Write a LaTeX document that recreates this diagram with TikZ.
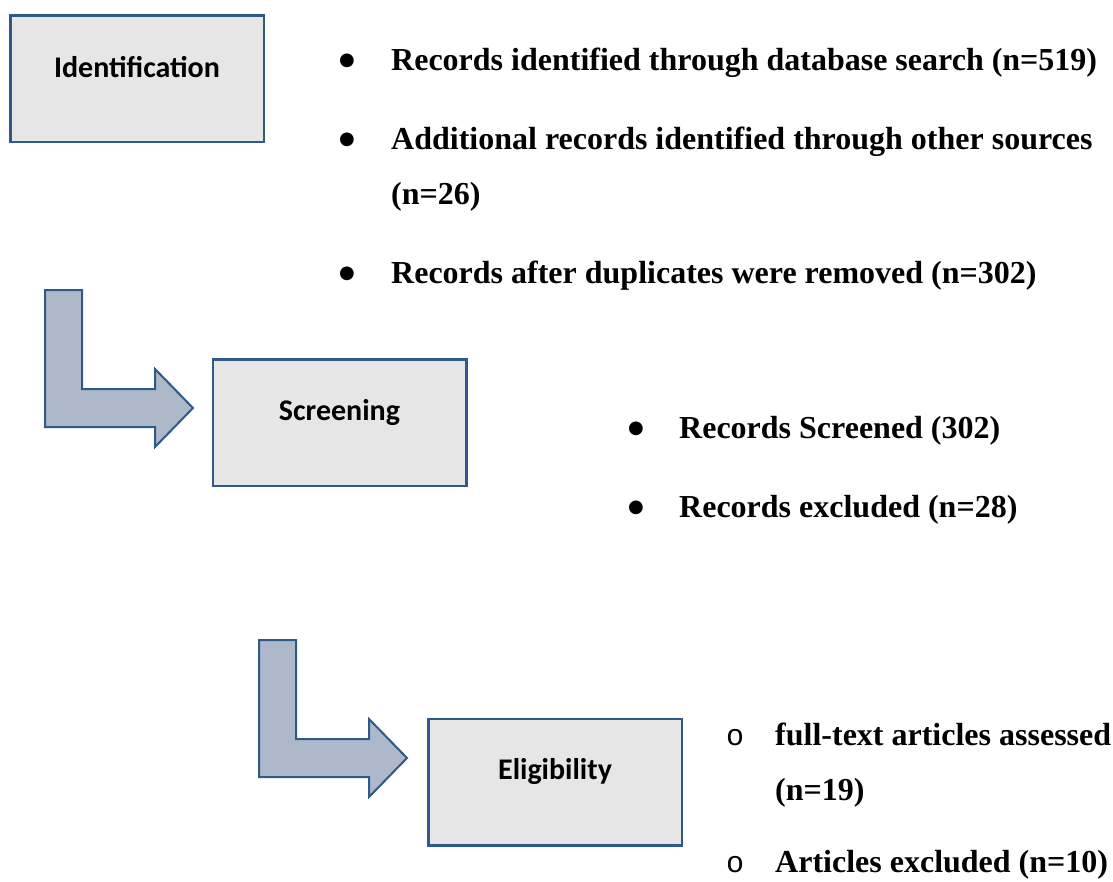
\documentclass[tikz,border=0pt]{standalone}
\usepackage{fontspec}
\setmainfont{Liberation Serif}
\newfontfamily\boxfont{Carlito}
\newfontfamily\markfont{Liberation Mono}
\newfontfamily\dotfont{DejaVu Sans}
\usepackage{xcolor}
\definecolor{boxblue}{HTML}{2F5A88}
\definecolor{boxgray}{HTML}{E6E6E6}
\definecolor{arrowfill}{HTML}{ADB9CA}
\tikzset{
  stage/.style    = {draw=boxblue, line width=2.5pt, fill=boxgray,
                     minimum width=253.5pt, minimum height=126.5pt,
                     inner sep=0pt},
  stagetext/.style= {font=\boxfont\bfseries\fontsize{30}{36}\selectfont},
  bendarrow/.style= {draw=boxblue, line width=2pt, fill=arrowfill,
                     line join=miter},
  entry/.style    = {anchor=base west, inner sep=0pt, align=left,
                     font=\bfseries\fontsize{32}{55}\selectfont},
  dot/.style      = {anchor=center, inner sep=0pt,
                     font=\dotfont\fontsize{18}{20}\selectfont},
  ring/.style     = {anchor=base, inner sep=0pt,
                     font=\markfont\fontsize{30}{34}\selectfont},
}
% bent block arrow, #1 = left edge, #2 = top edge
\newcommand{\bentarrow}[2]{%
  \draw[bendarrow, shift={(#1,#2)}] (0,0) -- (37,0) -- (37,99) -- (110,99)
    -- (110,79) -- (148,118) -- (110,157) -- (110,137) -- (0,137) -- cycle;}

\begin{document}
\begin{tikzpicture}[x=1pt, y=-1pt]
\useasboundingbox (0,0) rectangle (1113,881);
% ---------------- stages ----------------
\node[stage, label={[stagetext, yshift=11pt]center:Identification}] (ident) at (137,78.5) {};
\node[stage, label={[stagetext, yshift=10pt]center:Screening}] (screen) at (339.5,422.5) {};
\node[stage, label={[stagetext, yshift=10pt]center:Eligibility}] (elig) at (555,782) {};
\bentarrow{45}{290}
\bentarrow{259}{640}
% ---------------- identification ----------------
\node[dot] (d1) at (347,61) {●};
\node[entry] (idA) at (391,70) {Records identified through database search (n=519)};
\node[dot] (d2) at (347,140) {●};
% base of a two-line entry sits on its last line
\node[entry] (idB) at (391,204) {Additional records identified through other sources\\(n=26)};
\node[dot] (d3) at (347,274) {●};
\node[entry] (idC) at (391,283) {Records after duplicates were removed (n=302)};
% ---------------- screening ----------------
\node[dot] (d4) at (636,429) {●};
\node[entry] (scA) at (679,438) {Records Screened (302)};
\node[dot] (d5) at (636,508) {●};
\node[entry] (scB) at (679,517) {Records excluded (n=28)};
% ---------------- eligibility ----------------
\node[ring] (o1) at (735,745) {o};
\node[entry] (elA) at (775,800) {full-text articles assessed\\(n=19)};
\node[ring] (o2) at (735,872) {o};
\node[entry] (elB) at (775,872) {Articles excluded (n=10)};
\end{tikzpicture}
\end{document}
